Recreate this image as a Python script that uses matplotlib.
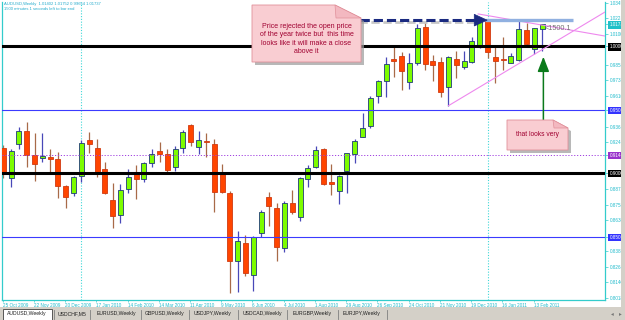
import matplotlib
matplotlib.use('Agg')
import matplotlib.pyplot as plt
from matplotlib.patches import Polygon, Rectangle
import numpy as np

plt.rcParams['font.family'] = ['Liberation Sans', 'DejaVu Sans']

# ---------------- data (AUDUSD weekly, bars from 25 Oct 2009) ----------------
opens = [0.9200, 0.8961, 0.9229, 0.9334, 0.9142, 0.9119, 0.9129, 0.9113, 0.8903, 0.8843,
         0.8979, 0.9263, 0.9202, 0.9032, 0.8790, 0.8672, 0.8874, 0.9008, 0.8956, 0.9084,
         0.9176, 0.9153, 0.9048, 0.9197, 0.9381, 0.9205, 0.9255, 0.9231, 0.9008, 0.8843,
         0.8309, 0.8449, 0.8199, 0.8528, 0.8811, 0.8729, 0.8409, 0.8766, 0.8658, 0.8953,
         0.9048, 0.9190, 0.8932, 0.8859, 0.9019, 0.9153, 0.9289, 0.9376, 0.9610, 0.9728,
         0.9897, 0.9925, 0.9722, 0.9872, 1.0156, 0.9888, 0.9875, 0.9678, 0.9899, 0.9840,
         0.9880, 1.0006, 1.0203, 0.9919, 0.9901, 0.9872, 0.9893, 1.0130, 0.9978, 1.0140]
highs = [0.9223, 0.9192, 0.9368, 0.9407, 0.9320, 0.9320, 0.9192, 0.9171, 0.8910, 0.8980,
         0.9263, 0.9328, 0.9271, 0.9092, 0.8926, 0.8916, 0.9032, 0.9066, 0.9092, 0.9190,
         0.9249, 0.9192, 0.9216, 0.9342, 0.9385, 0.9336, 0.9320, 0.9268, 0.9074, 0.8861,
         0.8546, 0.8514, 0.8506, 0.8711, 0.8853, 0.8769, 0.8785, 0.8869, 0.8969, 0.9066,
         0.9216, 0.9197, 0.9074, 0.8987, 0.9163, 0.9268, 0.9473, 0.9610, 0.9736, 0.9915,
         0.9993, 0.9959, 0.9946, 1.0177, 1.0190, 0.9933, 0.9915, 0.9925, 0.9967, 0.9967,
         1.0077, 1.0222, 1.0214, 1.0011, 1.0077, 0.9946, 1.0203, 1.0187, 1.0148, 1.0175]
lows = [0.8963, 0.8895, 0.9190, 0.9053, 0.8942, 0.9092, 0.9013, 0.8803, 0.8729, 0.8822,
        0.8934, 0.9163, 0.8974, 0.8840, 0.8572, 0.8606, 0.8843, 0.8796, 0.8930, 0.9048,
        0.9092, 0.9000, 0.9021, 0.9163, 0.9218, 0.9153, 0.9126, 0.8698, 0.8849, 0.8060,
        0.8067, 0.8191, 0.8075, 0.8496, 0.8587, 0.8309, 0.8380, 0.8680, 0.8625, 0.8895,
        0.9040, 0.8908, 0.8829, 0.8758, 0.8848, 0.9084, 0.9284, 0.9355, 0.9557, 0.9604,
        0.9762, 0.9657, 0.9662, 0.9854, 0.9814, 0.9728, 0.9604, 0.9533, 0.9749, 0.9820,
        0.9867, 0.9985, 0.9907, 0.9710, 0.9814, 0.9867, 0.9888, 1.0006, 0.9938, 0.9965]
closes = [0.8995, 0.9176, 0.9336, 0.9145, 0.9071, 0.9137, 0.9113, 0.8903, 0.8816, 0.8974,
          0.9237, 0.9229, 0.9005, 0.8843, 0.8666, 0.8869, 0.8974, 0.8956, 0.9079, 0.9153,
          0.9155, 0.9026, 0.9190, 0.9326, 0.9245, 0.9263, 0.9245, 0.8855, 0.8851, 0.8309,
          0.8465, 0.8212, 0.8496, 0.8693, 0.8745, 0.8417, 0.8769, 0.8693, 0.8961, 0.9040,
          0.9184, 0.8918, 0.8914, 0.8982, 0.9158, 0.9257, 0.9355, 0.9591, 0.9728, 0.9859,
          0.9889, 0.9807, 0.9872, 1.0143, 0.9862, 0.9854, 0.9639, 0.9919, 0.9851, 0.9885,
          1.0041, 1.0208, 0.9959, 0.9888, 0.9893, 0.9925, 1.0135, 1.0017, 1.0143, 1.0174]

date_tick_idx = [0, 4, 8, 12, 16, 20, 24, 28, 32, 36, 40, 44, 48, 52, 56, 60, 64, 68]
date_labels = ['25 Oct 2009', '22 Nov 2009', '20 Dec 2009', '17 Jan 2010', '14 Feb 2010',
               '14 Mar 2010', '11 Apr 2010', '9 May 2010', '6 Jun 2010', '4 Jul 2010',
               '1 Aug 2010', '29 Aug 2010', '26 Sep 2010', '24 Oct 2010', '21 Nov 2010',
               '19 Dec 2010', '16 Jan 2011', '13 Feb 2011']
year_sep_idx = [10, 62]

price_ticks = [0.80180, 0.81405, 0.82630, 0.83855, 0.86305, 0.87530, 0.88755,
               0.92430, 0.93655, 0.96105, 0.97330, 0.98555, 1.01005, 1.02230, 1.03455]
hl_levels = [1.00000, 0.90000, 0.95000, 0.85000, 0.91440, 1.01737]
hl_colors = ['black', 'black', '#3333FF', '#3333FF', '#9933CC', '#20C0C8']

black_levels = [1.0000, 0.9000]
blue_levels = [0.9500, 0.8500]
dotted_level = 0.9144
year_open = 1.0207

tabs = ['AUDUSD,Weekly', 'USDCHF,M5', 'EURUSD,Weekly', 'GBPUSD,Weekly',
        'USDJPY,Weekly', 'USDCAD,Weekly', 'EURGBP,Weekly', 'EURJPY,Weekly']

# ---------------- figure ----------------
W, H = 625, 320
fig = plt.figure(figsize=(6.25, 3.2), dpi=100)
fig.patch.set_facecolor('white')

def fx(x):
    return x / W

def fy(y):
    return 1 - y / H

ax = fig.add_axes([fx(2), fy(300), fx(605) - fx(2), fy(2) - fy(300)])
ax.set_facecolor('white')
ax.set_xlim(-0.17, 77.04)
ax.set_ylim(0.8002, 1.0350)

cyan = '#33CCCC'
o = np.array(opens); h = np.array(highs); l = np.array(lows); c = np.array(closes)
idx = np.arange(len(o))
bull = c >= o
lo = np.minimum(o, c)
ht = np.maximum(np.abs(c - o), 0.0011)

# separators
for s in year_sep_idx:
    ax.axvline(s, color='#40D8D8', lw=0.8, ls=(0, (1, 1.5)), zorder=1)

ax.vlines(idx[bull], l[bull], h[bull], color='#4848B8', lw=0.9, zorder=2)
ax.vlines(idx[~bull], l[~bull], h[~bull], color='#A86A48', lw=0.9, zorder=2)
ax.bar(idx[bull], ht[bull], bottom=lo[bull], width=0.64, color='#7CFC00',
       edgecolor='#1F3A78', lw=0.6, zorder=3)
ax.bar(idx[~bull], ht[~bull], bottom=lo[~bull], width=0.64, color='#FF4500',
       edgecolor='#D03A10', lw=0.6, zorder=3)

# horizontal levels
for lv in black_levels:
    ax.axhline(lv, color='black', lw=2.2, zorder=4)
for lv in blue_levels:
    ax.axhline(lv, color='#3B3BFF', lw=0.8, zorder=4)
ax.axhline(dotted_level, color='#A040E0', lw=0.7, ls=(0, (1.2, 1.8)), zorder=4)

# trend lines (pink)
ax.plot([57, 77.2], [0.9533, 1.0277], color='#EE88EE', lw=0.8, zorder=4)
ax.plot([60.8, 77.2], [1.0256, 1.0080], color='#EE88EE', lw=0.8, zorder=4)

# year open light blue line
ax.plot([61.7, 73.0], [year_open, year_open], color='#90B0E0', lw=2.4, zorder=4,
        solid_capstyle='butt')

# navy dashed arrow
ax.plot([44, 60.5], [year_open - 0.0013, year_open - 0.0013], color='#C8C8C8', lw=2.0,
        ls=(0, (3, 1.3)), zorder=4)
ax.plot([44, 60.5], [year_open, year_open], color='#1A2A80', lw=2.2,
        ls=(0, (3, 1.3)), zorder=5)
ax.add_patch(Polygon([(60.3, year_open + 0.0046), (61.95, year_open),
                      (60.3, year_open - 0.0046)], closed=True, fc='#1A2A80',
                     ec='#1A2A80', lw=0.5, zorder=5))

# green arrow
ax.annotate('', xy=(69.15, 0.9919), xytext=(69.15, 0.9413),
            arrowprops=dict(arrowstyle='-|>,head_length=0.9,head_width=0.35',
                            color='#0B7A1B', lw=1.1, shrinkA=0, shrinkB=0), zorder=5)

ax.text(69.35, 1.0143, '<1500.1', va='center', ha='left', fontsize=5.2,
        color='#707070', zorder=6)

# axes styling
ax.spines['top'].set_visible(False)
for side in ['left', 'right', 'bottom']:
    ax.spines[side].set_color(cyan)
    ax.spines[side].set_linewidth(0.9)

ax.yaxis.tick_right()
all_ticks = price_ticks + hl_levels
all_labels = ['%.5f' % v for v in price_ticks] + ['%.5f' % v for v in hl_levels]
ax.set_yticks(all_ticks)
ax.set_yticklabels(all_labels)
ax.tick_params(axis='y', which='both', length=2, width=0.5, color=cyan,
               labelsize=3.3, labelcolor='#22BBCC', pad=1.2)
labs = ax.get_yticklabels()
n_reg = len(price_ticks)
for k, lab in enumerate(labs):
    if k >= n_reg:
        col = hl_colors[k - n_reg]
        lab.set_color('white')
        lab.set_bbox(dict(boxstyle='square,pad=0.25', fc=col, ec='none'))

ax.set_xticks([i - 0.1 for i in date_tick_idx])
ax.set_xticklabels(date_labels)
ax.tick_params(axis='x', length=1.5, width=0.5, color=cyan, labelsize=3.3,
               labelcolor='#22BBCC', pad=1.0)
for lab in ax.get_xticklabels():
    lab.set_ha('left')

# title
fig.text(fx(4), fy(4.5), 'AUDUSD,Weekly  1.01402 1.01752 0.99654 1.01737',
         fontsize=3.0, color='#22AACC', ha='left', va='center')
fig.text(fx(4), fy(9.2), '1500 minutes 1 seconds left to bar end',
         fontsize=3.0, color='#22AACC', ha='left', va='center')

# ---------------- notes ----------------
def note(x0, y0, x1, y1, fold_w, fold_h, lines, cx, ys, fs):
    sh = 3
    pts = [(x0, y0), (x1 - fold_w, y0), (x1, y0 + fold_h), (x1, y1), (x0, y1)]
    shadow = [(px + sh, py + sh) for px, py in pts]
    fig.add_artist(Polygon([(fx(a), fy(b)) for a, b in shadow], closed=True,
                           transform=fig.transFigure, fc='#9A9A9A', ec='none',
                           alpha=0.7, zorder=10))
    fig.add_artist(Polygon([(fx(a), fy(b)) for a, b in pts], closed=True,
                           transform=fig.transFigure, fc='#F9CDD2', ec='#E0909A',
                           lw=0.6, zorder=11))
    fold = [(x1 - fold_w, y0), (x1 - fold_w + 1, y0 + fold_h), (x1, y0 + fold_h)]
    fig.add_artist(Polygon([(fx(a), fy(b)) for a, b in fold], closed=True,
                           transform=fig.transFigure, fc='#F3B8C0', ec='#E0909A',
                           lw=0.5, zorder=12))
    for t, yy in zip(lines, ys):
        fig.text(fx(cx), fy(yy), t, fontsize=fs, color='#A00030', ha='center',
                 va='center', zorder=13)

note(252, 5, 361, 62, 26, 13,
     ['Price rejected the open price', 'of the year twice but  this time',
      'looks like it will make a close', 'above it'],
     306.5, [26.0, 34.7, 43.3, 51.8], 5.0)
note(507, 120, 568, 150, 15, 8, ['that looks very'], 537, [135], 4.8)

# ---------------- right strip & tab bar ----------------
fig.add_artist(Rectangle((fx(621), fy(307)), fx(4), fy(0) - fy(307),
                         transform=fig.transFigure, fc='#D4D0C8', ec='none', zorder=9))
fig.add_artist(Rectangle((0, 0), 1, fy(307), transform=fig.transFigure,
                         fc='#D4D0C8', ec='none', zorder=9))
fig.add_artist(Rectangle((fx(3), fy(319.5)), fx(49), fy(308.5) - fy(319.5),
                         transform=fig.transFigure, fc='white', ec='#404040',
                         lw=0.6, zorder=10))
tab_cx = [27, 72, 116, 165, 213, 262, 312, 362]
seps = [54, 90, 141, 189, 238, 287, 338, 387]
for t, cxp in zip(tabs, tab_cx):
    fig.text(fx(cxp), fy(314), t, fontsize=3.7, color='#202020', ha='center',
             va='center', zorder=11)
for s in seps:
    fig.add_artist(plt.Line2D([fx(s), fx(s)], [fy(309.5), fy(318.5)],
                              transform=fig.transFigure, color='#808080', lw=0.6,
                              zorder=11))
fig.text(fx(612), fy(314), '\u25c2', fontsize=4, color='#777777', ha='center',
         va='center', zorder=11)
fig.text(fx(620), fy(314), '\u25b8', fontsize=4, color='#777777', ha='center',
         va='center', zorder=11)

fig.savefig('out.png', dpi=100, facecolor='white')
